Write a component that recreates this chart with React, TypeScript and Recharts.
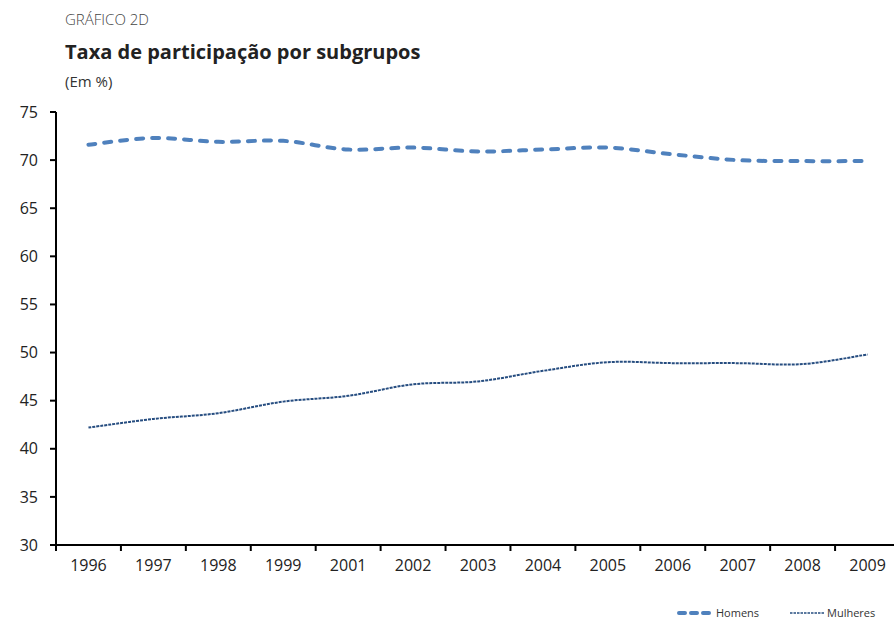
import React from 'react';
import { LineChart, Line, XAxis, YAxis } from 'recharts';

// Taxa de participação (%) por subgrupo, 1996–2009 (sem 2000)
const years = ['1996', '1997', '1998', '1999', '2001', '2002', '2003', '2004', '2005', '2006', '2007', '2008', '2009'];
const homens = [71.6, 72.3, 71.9, 72.0, 71.1, 71.3, 70.9, 71.1, 71.3, 70.6, 70.0, 69.9, 69.9];
const mulheres = [42.2, 43.1, 43.7, 44.9, 45.5, 46.7, 47.0, 48.1, 49.0, 48.9, 48.9, 48.8, 49.8];
const yTicks = [30, 35, 40, 45, 50, 55, 60, 65, 70, 75];

const data = years.map((ano, i) => ({ ano, Homens: homens[i], Mulheres: mulheres[i] }));

const FONT = '"Open Sans", "Noto Sans", sans-serif';
const CHART_W = 900;
const CHART_H = 621;
const PLOT_LEFT = 56;
const PLOT_W = CHART_W - PLOT_LEFT;
const HALF_BAND = PLOT_W / years.length / 2;

const HOMENS_COLOR = '#4F81BD';
const MULHERES_COLOR = '#264D80';

// Smoothed line through every point (Catmull-Rom style cubic Béziers)
const smoothCurve = (ctx: any) => {
  let pts: [number, number][] = [];
  return {
    areaStart() {},
    areaEnd() {},
    lineStart() {
      pts = [];
    },
    point(x: number, y: number) {
      pts.push([+x, +y]);
    },
    lineEnd() {
      if (!pts.length) return;
      ctx.moveTo(pts[0][0], pts[0][1]);
      for (let i = 0; i < pts.length - 1; i++) {
        const p0 = pts[Math.max(0, i - 1)];
        const p1 = pts[i];
        const p2 = pts[i + 1];
        const p3 = pts[Math.min(pts.length - 1, i + 2)];
        const c1x = p1[0] + (p2[0] - p0[0]) / 6;
        const c1y = p1[1] + (p2[1] - p0[1]) / 6;
        const c2x = p2[0] - (p3[0] - p1[0]) / 6;
        const c2y = p2[1] - (p3[1] - p1[1]) / 6;
        ctx.bezierCurveTo(c1x, c1y, c2x, c2y, p2[0], p2[1]);
      }
    },
  };
};

// Category label centred in its band, with the tick mark on the band's left edge
const YearTick = (props: any) => {
  const { x, y, payload } = props;
  const axisY = y - 8;
  return (
    <g>
      <line x1={x - HALF_BAND} x2={x - HALF_BAND} y1={axisY} y2={axisY + 6} stroke="#000" strokeWidth={2} />
      <text x={x} y={axisY + 26} textAnchor="middle" fontSize={16} fill="#222" fontFamily={FONT}>
        {payload.value}
      </text>
    </g>
  );
};

const LegendBlock = () => (
  <svg width={260} height={20} style={{ position: 'absolute', left: 667, top: 603 }}>
    <line x1={12} x2={46} y1={10} y2={10} stroke={HOMENS_COLOR} strokeWidth={4} strokeDasharray="6 6" strokeLinecap="round" />
    <text x={49} y={14} fontSize={11} fill="#333" fontFamily={FONT}>Homens</text>
    <line x1={123} x2={158} y1={10} y2={10} stroke={MULHERES_COLOR} strokeWidth={1.5} strokeDasharray="2.5 1" />
    <text x={160} y={14} fontSize={11} fill="#333" fontFamily={FONT}>Mulheres</text>
  </svg>
);

export default function App() {
  return (
    <div style={{ position: 'absolute', left: 0, top: 0, width: 894, height: 621, overflow: 'hidden', background: '#fff', fontFamily: FONT }}>
      <div style={{ position: 'absolute', left: 65, top: 9, fontSize: 15, color: '#444', fontWeight: 300 }}>GRÁFICO 2D</div>
      <div style={{ position: 'absolute', left: 65, top: 38, fontSize: 20, color: '#222', fontWeight: 700 }}>
        Taxa de participação por subgrupos
      </div>
      <div style={{ position: 'absolute', left: 65, top: 71, fontSize: 15, color: '#333' }}>(Em %)</div>
      <LineChart width={CHART_W} height={CHART_H} data={data} margin={{ top: 112, right: 0, bottom: 46, left: 0 }}>
        <XAxis
          dataKey="ano"
          height={30}
          padding={{ left: HALF_BAND, right: HALF_BAND }}
          axisLine={{ stroke: '#000', strokeWidth: 2 }}
          tickLine={false}
          tick={<YearTick />}
          interval={0}
        />
        <YAxis
          domain={[30, 75]}
          ticks={yTicks}
          width={PLOT_LEFT}
          axisLine={{ stroke: '#000', strokeWidth: 2 }}
          tickLine={{ stroke: '#000', strokeWidth: 2 }}
          tickSize={6}
          tickMargin={12}
          tick={{ fontSize: 16, fill: '#222', fontFamily: FONT }}
        />
        <Line
          type={smoothCurve as any}
          dataKey="Homens"
          name="Homens"
          stroke={HOMENS_COLOR}
          strokeWidth={4}
          strokeDasharray="7 9"
          strokeLinecap="round"
          dot={false}
          isAnimationActive={false}
        />
        <Line
          type={smoothCurve as any}
          dataKey="Mulheres"
          name="Mulheres"
          stroke={MULHERES_COLOR}
          strokeWidth={2}
          strokeDasharray="3 1"
          dot={false}
          isAnimationActive={false}
        />
      </LineChart>
      <LegendBlock />
    </div>
  );
}
